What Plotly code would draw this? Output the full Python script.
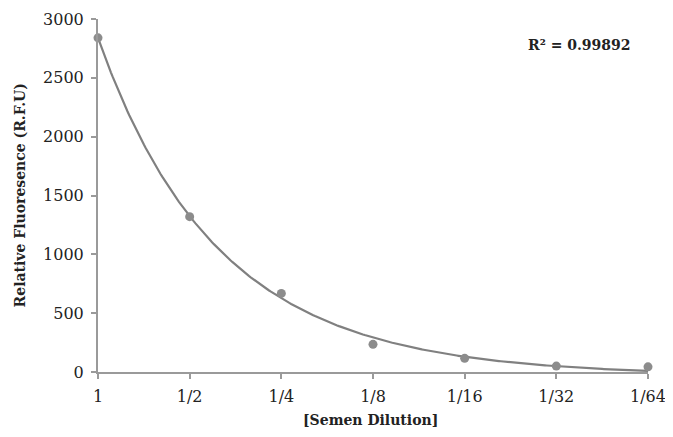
import numpy as np
import plotly.graph_objects as go

categories = ["1", "1/2", "1/4", "1/8", "1/16", "1/32", "1/64"]
dilution = [1, 1/2, 1/4, 1/8, 1/16, 1/32, 1/64]
fluorescence = [2840, 1320, 668, 235, 116, 50, 44]
y_ticks = [0, 500, 1000, 1500, 2000, 2500, 3000]
r2_label = "R² = 0.99892"
fit_degree = 2  # polynomial trendline in the dilution value

x_idx = np.arange(len(categories))
coef = np.polyfit(dilution, fluorescence, fit_degree)
xs = np.linspace(0, len(categories) - 1, 300)
ys = np.polyval(coef, 0.5 ** xs)

font = "DejaVu Serif"
gray_line = "#808080"
gray_pt = "#8c8c8c"
axis_gray = "#9a9a9a"
text_col = "#222222"

fig = go.Figure()
fig.add_trace(go.Scatter(x=xs, y=ys, mode="lines",
                         line=dict(color=gray_line, width=2.2),
                         hoverinfo="skip", showlegend=False, cliponaxis=False))
fig.add_trace(go.Scatter(x=x_idx, y=fluorescence, mode="markers",
                         marker=dict(color=gray_pt, size=9),
                         showlegend=False, cliponaxis=False))

fig.add_annotation(x=0.973, y=0.926, xref="paper", yref="paper",
                   text="<b>" + r2_label + "</b>", showarrow=False,
                   xanchor="right", yanchor="middle",
                   font=dict(family=font, size=14, color=text_col))
fig.add_annotation(x=0.495, y=-0.135, xref="paper", yref="paper",
                   text="<b>[Semen Dilution]</b>", showarrow=False,
                   xanchor="center", yanchor="middle",
                   font=dict(family=font, size=14, color=text_col))
fig.add_annotation(x=-0.142, y=0.5, xref="paper", yref="paper",
                   text="<b>Relative Fluoresence (R.F.U)</b>", showarrow=False,
                   xanchor="center", yanchor="middle", textangle=-90,
                   font=dict(family=font, size=14, color=text_col))

fig.update_layout(
    width=665, height=429,
    margin=dict(l=90, r=25, t=11, b=65),
    plot_bgcolor="white", paper_bgcolor="white",
    font=dict(family=font, size=16, color=text_col),
    xaxis=dict(range=[0, 6], tickmode="array", tickvals=list(x_idx),
               ticktext=categories, showgrid=False, zeroline=False,
               showline=True, linecolor=axis_gray, linewidth=2,
               ticks="outside", ticklen=5, tickcolor=axis_gray, tickwidth=2,
               ticklabelstandoff=4, automargin=False),
    yaxis=dict(range=[0, 3000], tickmode="array", tickvals=y_ticks,
               showgrid=False, zeroline=False,
               showline=True, linecolor=axis_gray, linewidth=2,
               ticks="outside", ticklen=5, tickcolor=axis_gray, tickwidth=2,
               ticklabelstandoff=4, automargin=False),
)

fig.write_html("out.html")
